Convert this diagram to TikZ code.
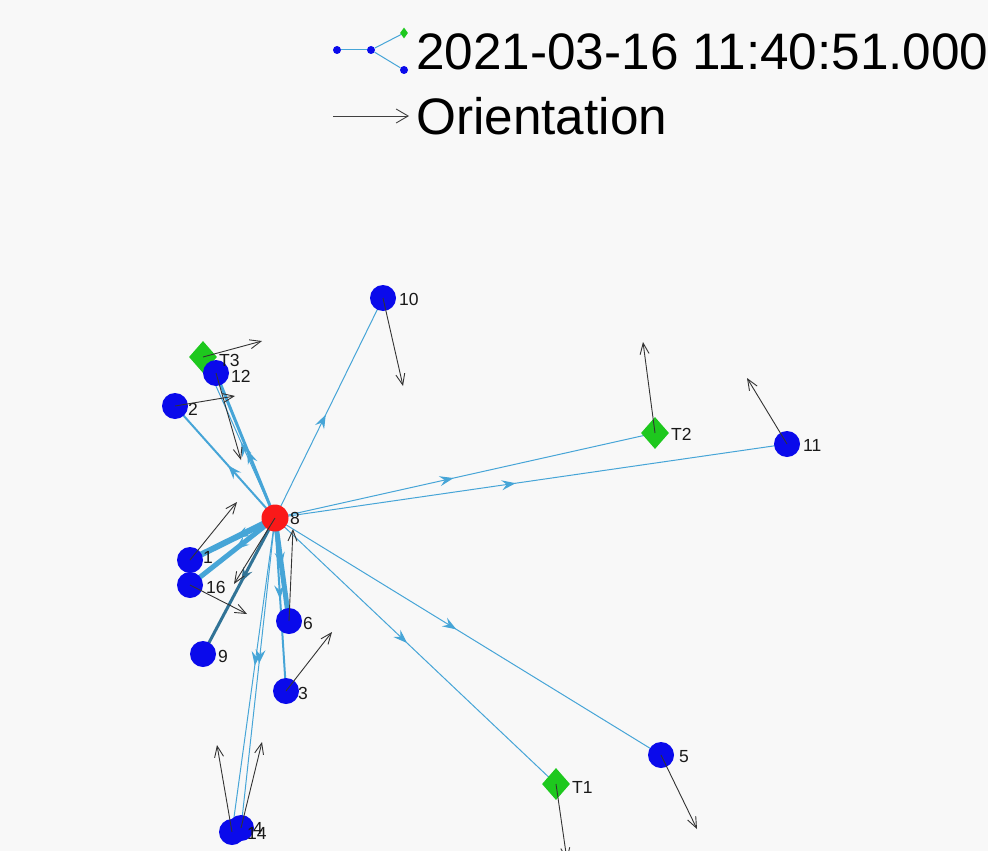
\documentclass[tikz,border=0pt]{standalone}
\usepackage{fontspec}
\setmainfont{Liberation Sans}
\usetikzlibrary{shapes.geometric,arrows.meta,decorations.markings}
\definecolor{nodeblue}{RGB}{10,10,235}
\definecolor{nodered}{RGB}{250,25,25}
\definecolor{nodegreen}{RGB}{30,200,30}
\definecolor{edgeblue}{RGB}{70,165,215}
\definecolor{bgcol}{RGB}{248,248,248}
\tikzset{
  bnode/.style={circle, fill=nodeblue, minimum size=26pt, inner sep=0pt},
  rnode/.style={circle, fill=nodered, minimum size=27pt, inner sep=0pt},
  tnode/.style={diamond, fill=nodegreen, minimum width=28pt, minimum height=32pt, inner sep=0pt},
  lbl/.style={font=\fontsize{17.5}{17.5}\selectfont, anchor=west, inner sep=0pt, text=black!90},
  edgeline/.style={draw=edgeblue, line width=1pt, postaction={decorate},
    decoration={markings, mark=at position 0.47 with {\arrow{Stealth[length=14pt,width=10pt,inset=5pt]}}}},
  orient/.style={draw=black!80, line width=0.9pt, -{Straight Barb[length=11pt,width=9pt]}},
  bigtext/.style={font=\fontsize{51.3}{51.3}\selectfont, anchor=base west, inner sep=0pt},
  ldot/.style={circle, fill=nodeblue, minimum size=8pt, inner sep=0pt},
  ldia/.style={diamond, fill=nodegreen, minimum width=8pt, minimum height=11pt, inner sep=0pt}
}
\begin{document}
\begin{tikzpicture}[x=1pt,y=-1pt]
\fill[bgcol] (0,0) rectangle (988,851);
\useasboundingbox (0,0) rectangle (988,851);

% node positions
\coordinate (p8) at (275,518);
\coordinate (p10) at (383,298);
\coordinate (pT3) at (203,357);
\coordinate (p12) at (216,373);
\coordinate (p2) at (175,406);
\coordinate (pT2) at (655,433);
\coordinate (p11) at (787,444);
\coordinate (p1) at (190,560);
\coordinate (p16) at (190,585);
\coordinate (p9) at (203,654);
\coordinate (p6) at (289,621);
\coordinate (p3) at (286,691);
\coordinate (p5) at (661,755);
\coordinate (pT1) at (556,784);
\coordinate (p14) at (232,832);
\coordinate (p4) at (241,828);

% edges
\draw[edgeline] (p8) -- (p10);
\draw[edgeline] (p8) -- (pT2);
\draw[edgeline] (p8) -- (p11);
\draw[edgeline] (p8) -- (p5);
\draw[edgeline] (p8) -- (pT1);
\draw[edgeline] (p8) -- (pT3);
\draw[edgeline, line width=3pt] (p8) -- (p12);
\draw[edgeline, line width=2pt] (p8) -- (p2);
\draw[edgeline, line width=6pt] (p8) -- (p1);
\draw[edgeline, line width=5pt] (p8) -- (p16);
\draw[edgeline, line width=3pt, draw=edgeblue!70!black] (p8) -- (p9);
\draw[edgeline, line width=5pt] (p8) -- (p6);
\draw[edgeline, line width=2pt] (p8) -- (p3);
\draw[edgeline] (p8) -- (p14);
\draw[edgeline] (p8) -- (p4);

% nodes
\node[tnode] (nT3) at (pT3) {};
\node[bnode] (n12) at (p12) {};
\node[bnode] (n10) at (p10) {};
\node[bnode] (n2) at (p2) {};
\node[tnode] (nT2) at (pT2) {};
\node[bnode] (n11) at (p11) {};
\node[bnode] (n1) at (p1) {};
\node[bnode] (n16) at (p16) {};
\node[bnode] (n9) at (p9) {};
\node[bnode] (n6) at (p6) {};
\node[bnode] (n3) at (p3) {};
\node[bnode] (n5) at (p5) {};
\node[tnode] (nT1) at (pT1) {};
\node[bnode] (n4) at (p4) {};
\node[bnode] (n14) at (p14) {};
\node[rnode] (n8) at (p8) {};

% labels
\node[lbl] (l8) at (290,518) {8};
\node[lbl] (l10) at (399,299) {10};
\node[lbl] (lT3) at (219,360) {T3};
\node[lbl] (l12) at (231,376) {12};
\node[lbl] (l2) at (188,409) {2};
\node[lbl] (lT2) at (671,434) {T2};
\node[lbl] (l11) at (803,445) {11};
\node[lbl] (l1) at (203,557) {1};
\node[lbl] (l16) at (206,587) {16};
\node[lbl] (l9) at (218,656) {9};
\node[lbl] (l6) at (303,623) {6};
\node[lbl] (l3) at (298,693) {3};
\node[lbl] (l5) at (679,757) {5};
\node[lbl] (lT1) at (572,787) {T1};
\node[lbl] (l4) at (253,828) {4};
\node[lbl] (l14) at (247,833) {14};

% orientation endpoints
\coordinate (o10) at (403,386);
\coordinate (oT3) at (262,341);
\coordinate (o12) at (241,460);
\coordinate (o2) at (235,396);
\coordinate (oT2) at (643,342);
\coordinate (o11) at (747,378);
\coordinate (o1) at (237,502);
\coordinate (o16) at (247,614);
\coordinate (o8) at (234,584);
\coordinate (o6) at (293,529);
\coordinate (o3) at (332,632);
\coordinate (o5) at (697,829);
\coordinate (oT1) at (567,860);
\coordinate (o14) at (217,745);
\coordinate (o4) at (262,742);

\draw[orient] (n10.center) -- (o10);
\draw[orient] (nT3.center) -- (oT3);
\draw[orient] (n12.center) -- (o12);
\draw[orient] (n2.center) -- (o2);
\draw[orient] (nT2.center) -- (oT2);
\draw[orient] (n11.center) -- (o11);
\draw[orient] (n1.center) -- (o1);
\draw[orient] (n16.center) -- (o16);
\draw[orient] (n8.center) -- (o8);
\draw[orient] (n6.center) -- (o6);
\draw[orient] (n3.center) -- (o3);
\draw[orient] (n5.center) -- (o5);
\draw[orient] (nT1.center) -- (oT1);
\draw[orient] (n14.center) -- (o14);
\draw[orient] (n4.center) -- (o4);

% legend
\node[ldot] (la) at (337,50) {};
\node[ldot] (lb) at (371,50) {};
\node[ldot] (lc) at (404,70) {};
\node[ldia] (ld) at (404,33) {};
\draw[edgeblue, line width=1pt] (la) -- (lb);
\draw[edgeblue, line width=1pt] (lb) -- (lc);
\draw[edgeblue, line width=1pt] (lb) -- (ld);
\node[bigtext] (ltime) at (416,70) {2021-03-16 11:40:51.000};
\coordinate (lar1) at (333,116);
\coordinate (lar2) at (409,116);
\draw[draw=black!75, line width=0.9pt, -{Straight Barb[length=12pt,width=14pt]}] (lar1) -- (lar2);
\node[bigtext] (lorient) at (416,134) {Orientation};
\end{tikzpicture}
\end{document}
